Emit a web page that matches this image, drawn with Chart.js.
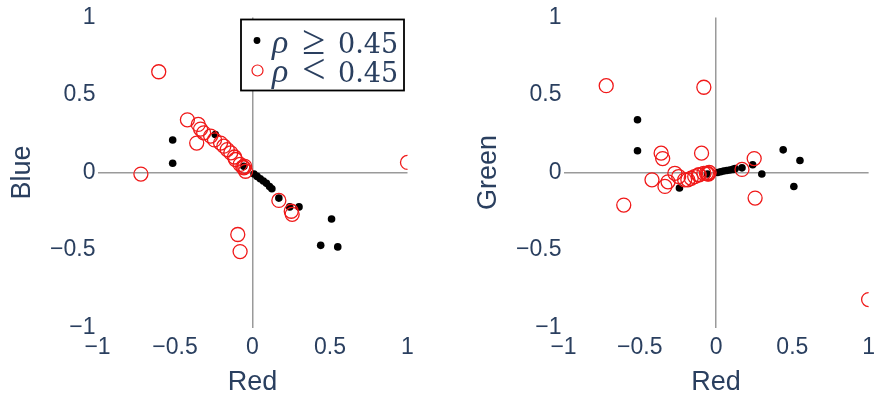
<!DOCTYPE html>
<html>
<head>
<meta charset="utf-8">
<script src="https://cdn.jsdelivr.net/npm/chart.js@4.4.1/dist/chart.umd.min.js"></script>
<style>
  html, body { margin: 0; padding: 0; background: #fff; }
  #wrap { position: relative; width: 881px; height: 396px; overflow: hidden; }
  .pane { position: absolute; top: 0; height: 396px; }
  #left { left: 0; width: 440px; }
  #right { left: 466px; width: 415px; }
</style>
</head>
<body>
<div id="wrap">
  <div class="pane" id="left"><canvas id="cBlue" width="440" height="396"></canvas></div>
  <div class="pane" id="right"><canvas id="cGreen" width="415" height="396"></canvas></div>
</div>
<script>
// Tick values and their printed labels (shared by both panels)
const tickValues = [-1, -0.5, 0, 0.5, 1];
const tickLabels = ['\u22121', '\u22120.5', '0', '0.5', '1'];

// Components with rho >= 0.45: Red loading, Blue loading, Green loading
const strongRed   = [-0.515, -0.515, -0.24, -0.056, 0.01, 0.03, 0.05, 0.07, 0.09, 0.11, 0.125, 0.17, 0.24, 0.30, 0.44, 0.51, 0.55];
const strongBlue  = [0.21, 0.06, 0.245, 0.04, -0.01, -0.025, -0.04, -0.055, -0.07, -0.09, -0.105, -0.165, -0.222, -0.222, -0.47, -0.30, -0.48];
const strongGreen = [0.34, 0.14, -0.10, -0.01, 0.0, 0.005, 0.01, 0.013, 0.016, 0.02, 0.025, 0.03, 0.05, -0.01, 0.146, -0.09, 0.077];

// Components with rho < 0.45
const weakRed   = [-0.72, -0.605, -0.42, -0.36, -0.35, -0.335, -0.315, -0.27, -0.245, -0.206, -0.185, -0.163, -0.14, -0.116, -0.11, -0.095, -0.08, -0.08, -0.063, -0.056, -0.05, -0.045, 0.17, 0.25, 0.256, 1.0];
const weakBlue  = [-0.01, 0.65, 0.34, 0.19, 0.31, 0.28, 0.256, 0.235, 0.21, 0.19, 0.17, 0.148, 0.127, 0.10, 0.084, -0.40, -0.51, 0.052, 0.035, 0.03, 0.04, 0.008, -0.18, -0.25, -0.27, 0.065];
const weakGreen = [0.56, -0.21, -0.047, 0.125, 0.09, -0.09, -0.06, -0.005, -0.026, -0.047, -0.047, -0.037, -0.026, -0.015, -0.015, 0.125, 0.55, -0.005, -0.005, -0.008, -0.01, 0.0, 0.02, 0.09, -0.165, -0.82];

const legendLabels = [['\u03C1', '\u2265', '0.45'], ['\u03C1', '<', '0.45']];

const INK = '#2a3f5f';
const ZERO = '#9a9a9a';
const RED = 'rgb(240,25,25)';
const SANS = "'Liberation Sans', Arial, sans-serif";

function pairs(xs, ys) {
  return xs.map((x, i) => ({ x: x, y: ys[i] }));
}

function tickText(v) {
  const i = tickValues.findIndex(t => Math.abs(t - v) < 1e-9);
  return i >= 0 ? tickLabels[i] : '';
}

// Boxed legend drawn over the first panel
const rhoLegend = {
  id: 'rhoLegend',
  afterDraw(chart) {
    const ctx = chart.ctx;
    ctx.save();
    ctx.fillStyle = '#fff';
    ctx.fillRect(241, 19.5, 163, 71);
    ctx.strokeStyle = '#000';
    ctx.lineWidth = 1.8;
    ctx.strokeRect(241, 19.5, 163, 71);

    // markers
    ctx.beginPath();
    ctx.arc(257, 40.5, 3.4, 0, Math.PI * 2);
    ctx.fillStyle = '#000';
    ctx.fill();
    ctx.beginPath();
    ctx.arc(257.5, 70.5, 5.5, 0, Math.PI * 2);
    ctx.strokeStyle = RED;
    ctx.lineWidth = 1.2;
    ctx.stroke();

    ctx.fillStyle = INK;
    ctx.textBaseline = 'alphabetic';
    ctx.textAlign = 'left';
    const baselines = [53, 81.5];
    legendLabels.forEach((parts, i) => {
      const b = baselines[i];
      ctx.font = "italic 34px 'Liberation Serif', serif";
      ctx.fillText(parts[0], 272, b);
      ctx.font = "42px 'Liberation Serif', serif";
      ctx.fillText(parts[1], 302, b + 1);
      ctx.font = "27px 'DejaVu Serif', serif";
      ctx.fillText(parts[2], 338, b);
    });
    ctx.restore();
  }
};

function makeChart(canvasId, yTitle, strongY, weakY, padRight, withLegend) {
  return new Chart(document.getElementById(canvasId), {
    type: 'scatter',
    data: {
      datasets: [
        {
          label: 'weak',
          data: pairs(weakRed, weakY),
          order: 0,
          clip: 0,
          pointRadius: 7,
          pointHoverRadius: 7,
          pointBackgroundColor: 'rgba(0,0,0,0)',
          pointBorderColor: RED,
          pointBorderWidth: 1.3
        },
        {
          label: 'strong',
          data: pairs(strongRed, strongY),
          order: 1,
          clip: 0,
          pointRadius: 3.8,
          pointHoverRadius: 3.8,
          pointBackgroundColor: '#000',
          pointBorderWidth: 0
        }
      ]
    },
    options: {
      responsive: false,
      animation: false,
      events: [],
      layout: { padding: { top: 17.5, left: 0, right: padRight, bottom: 0 } },
      plugins: { legend: { display: false }, tooltip: { enabled: false } },
      scales: {
        x: {
          type: 'linear',
          min: -1, max: 1,
          afterFit: s => { s.height = 68.5; },
          afterBuildTicks: s => { s.ticks = tickValues.map(v => ({ value: v })); },
          border: { display: false },
          grid: {
            drawTicks: false,
            lineWidth: 1.5,
            color: c => (c.tick && c.tick.value === 0) ? ZERO : 'rgba(0,0,0,0)'
          },
          ticks: {
            autoSkip: false, maxRotation: 0, padding: 6,
            color: INK, font: { family: SANS, size: 23 },
            callback: v => tickText(v)
          },
          title: {
            display: true, text: 'Red', color: INK,
            font: { family: SANS, size: 27, lineHeight: 1 },
            padding: { top: 0, bottom: 0 }
          }
        },
        y: {
          type: 'linear',
          min: -1, max: 1,
          afterFit: s => { s.width = 97.5; },
          afterBuildTicks: s => { s.ticks = tickValues.map(v => ({ value: v })); },
          border: { display: false },
          grid: {
            drawTicks: false,
            lineWidth: 1.5,
            color: c => (c.tick && c.tick.value === 0) ? ZERO : 'rgba(0,0,0,0)'
          },
          ticks: {
            autoSkip: false, padding: 2,
            color: INK, font: { family: SANS, size: 23 },
            callback: v => tickText(v)
          },
          title: {
            display: true, text: yTitle, color: INK,
            font: { family: SANS, size: 27, lineHeight: 1 },
            padding: { top: 9.5, bottom: 0 }
          }
        }
      }
    },
    plugins: withLegend ? [rhoLegend] : []
  });
}

makeChart('cBlue', 'Blue', strongBlue, weakBlue, 32.5, true);
makeChart('cGreen', 'Green', strongGreen, weakGreen, 7.5, false);
</script>
</body>
</html>
